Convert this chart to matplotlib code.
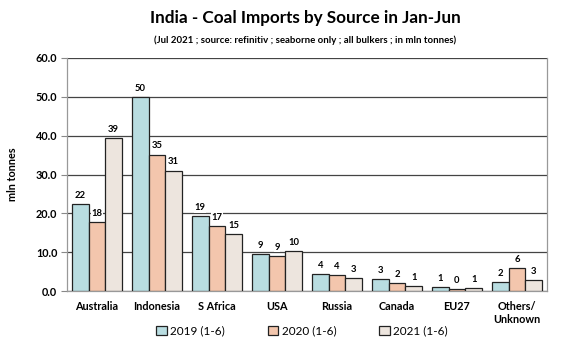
import matplotlib
matplotlib.use("Agg")
import matplotlib.pyplot as plt
import numpy as np

categories = ["Australia", "Indonesia", "S Africa", "USA", "Russia", "Canada", "EU27", "Others/\nUnknown"]
series_names = ["2019 (1-6)", "2020 (1-6)", "2021 (1-6)"]
v2019 = [22.4, 50.0, 19.2, 9.4, 4.3, 3.1, 1.0, 2.2]
v2020 = [17.7, 35.1, 16.7, 9.0, 4.0, 2.0, 0.4, 5.8]
v2021 = [39.4, 31.0, 14.6, 10.3, 3.4, 1.3, 0.7, 2.8]
colors = ["#b9dde1", "#f3c6ad", "#ede5de"]

plt.rcParams['font.family'] = ['Lato', 'DejaVu Sans']

fig = plt.figure(figsize=(5.65, 3.54), dpi=100)
ax = fig.add_axes([67/565, 1-291/354, (547-67)/565, (291-58)/354])

x = np.arange(len(categories))
w = 0.278
for i, (vals, c, name) in enumerate(zip([v2019, v2020, v2021], colors, series_names)):
    pos = x + (i - 1) * w
    ax.bar(pos, vals, width=w, color=c, edgecolor="#222222", linewidth=0.9,
           label=name, zorder=3)
    for p, v in zip(pos, vals):
        ax.text(p, v + 1.1, f"{round(v):d}", ha="center", va="bottom",
                fontsize=6.8, fontweight="bold", zorder=4,
                bbox=dict(facecolor="white", edgecolor="none", pad=0.5))

ax.set_xlim(-0.5, len(categories) - 0.5)
ax.set_ylim(0, 60)
ax.set_yticks(np.arange(0, 61, 10))
ax.set_yticklabels([f"{t:.1f}" for t in np.arange(0, 61, 10)], fontsize=7.8, fontweight="bold")
ax.set_xticks(x)
ax.set_xticklabels(categories, fontsize=7.8, fontweight="bold")
ax.tick_params(axis="x", length=0, pad=7)
ax.tick_params(axis="y", length=4, width=0.8, color="#888888", pad=3)
ax.yaxis.grid(True, color="#444444", linewidth=0.9, zorder=0)
for s in ["left", "right", "top", "bottom"]:
    ax.spines[s].set_color("#999999")
    ax.spines[s].set_linewidth(0.9)
ax.spines["top"].set_visible(False)

ax.set_ylabel("mln tonnes", fontsize=7.8, fontweight="bold", labelpad=13)

fig.text(305/565, 1-18/354, "India - Coal Imports by Source in Jan-Jun", ha="center", va="center",
         fontsize=12.3, fontweight="bold")
fig.text(305/565, 1-40/354, "(Jul 2021 ; source: refinitiv ; seaborne only ; all bulkers ; in mln tonnes)",
         ha="center", va="center", fontsize=6.9, fontweight="bold")

fig.legend(loc="center", bbox_to_anchor=(302/565, 1-331/354), ncol=3, frameon=False,
           fontsize=8.5, handlelength=0.9, handleheight=0.9, handletextpad=0.3,
           columnspacing=3.6)

fig.savefig("out.png", dpi=100)
